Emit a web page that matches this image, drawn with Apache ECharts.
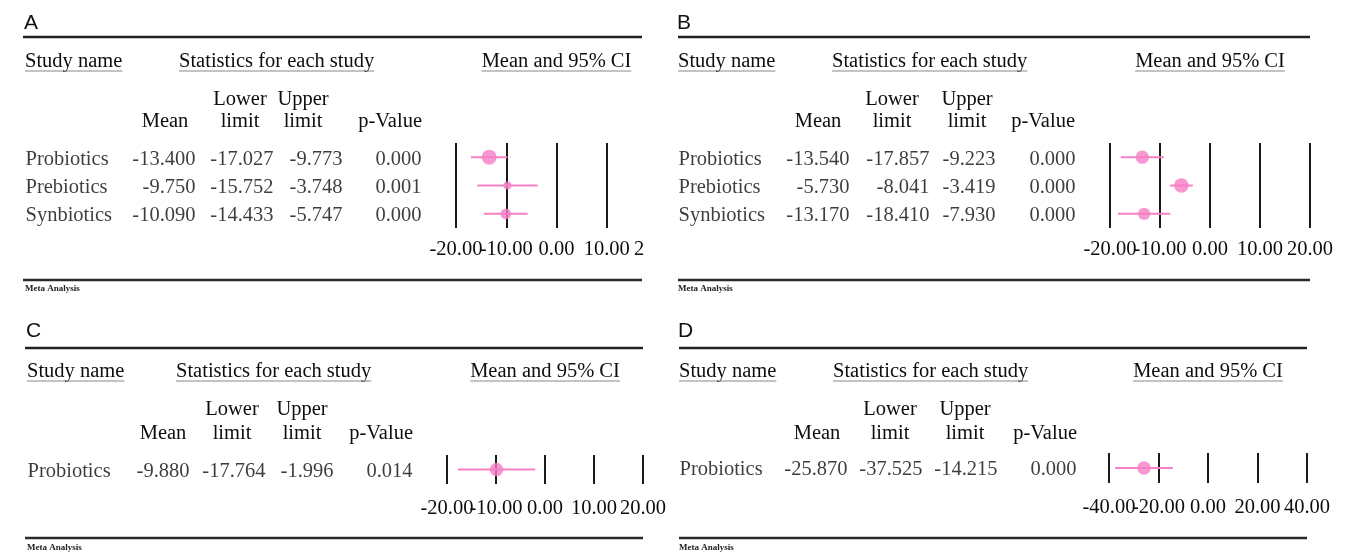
<!DOCTYPE html>
<html><head><meta charset="utf-8">
<script src="https://cdn.jsdelivr.net/npm/echarts@6/dist/echarts.min.js"></script>
<style>html,body{margin:0;padding:0;background:#fff}#c{width:1351px;height:556px}</style>
</head><body><div id="c"></div>
<script>
// ---------------- DATA ----------------
const panelLetters = ['A', 'B', 'C', 'D'];

const studiesA = ['Probiotics', 'Prebiotics', 'Synbiotics'];
const meanA = [-13.400, -9.750, -10.090];
const lowerA = [-17.027, -15.752, -14.433];
const upperA = [-9.773, -3.748, -5.747];
const pValueA = [0.000, 0.001, 0.000];
const weightA = [55, 16, 29];
const ticksA = [-20, -10, 0, 10, 20];

const studiesB = ['Probiotics', 'Prebiotics', 'Synbiotics'];
const meanB = [-13.540, -5.730, -13.170];
const lowerB = [-17.857, -8.041, -18.410];
const upperB = [-9.223, -3.419, -7.930];
const pValueB = [0.000, 0.000, 0.000];
const weightB = [33, 39, 28];
const ticksB = [-20, -10, 0, 10, 20];

const studiesC = ['Probiotics'];
const meanC = [-9.880];
const lowerC = [-17.764];
const upperC = [-1.996];
const pValueC = [0.014];
const weightC = [100];
const ticksC = [-20, -10, 0, 10, 20];

const studiesD = ['Probiotics'];
const meanD = [-25.870];
const lowerD = [-37.525];
const upperD = [-14.215];
const pValueD = [0.000];
const weightD = [100];
const ticksD = [-40, -20, 0, 20, 40];

const headerStudy = 'Study name';
const headerStats = 'Statistics for each study';
const headerCI = 'Mean and 95% CI';
const colHeadTop = ['Lower', 'Upper'];
const colHeadBottom = ['Mean', 'limit', 'limit', 'p-Value'];
const footerText = 'Meta Analysis';

// ---------------- LAYOUT ----------------
const PINK = '#F580C4';
const INK = '#0d0d0d';
const SERIF = '"Liberation Serif","Times New Roman",serif';
const SANS = '"Liberation Sans",Arial,sans-serif';
const FS = 20.5;

const yTopRow = {label: 23, top: 37, head: 62, under: 71, h1: 100, h2: 122, bottom: 280, meta: 289};
const yBotRow = {label: 331, top: 348, head: 372, under: 381, h1: 410, h2: 434, bottom: 538, meta: 548};

const panels = [
  {studies: studiesA, mean: meanA, lower: lowerA, upper: upperA, p: pValueA, w: weightA, ticks: ticksA,
   L: 25, rule: [23, 642], y: yTopRow, forest: {left: 456, width: 201, top: 143, height: 85, margin: 11}, maxSym: 15,
   hdr: {mean: 165, lower: 240, upper: 303, pRight: 422}, val: [196, 274, 343, 422], stats: 179},
  {studies: studiesB, mean: meanB, lower: lowerB, upper: upperB, p: pValueB, w: weightB, ticks: ticksB,
   L: 678, rule: [678, 1310], y: yTopRow, forest: {left: 1110, width: 200, top: 143, height: 85, margin: 11}, maxSym: 14.5,
   hdr: {mean: 818, lower: 892, upper: 967, pRight: 1075}, val: [850, 930, 996, 1076], stats: 832},
  {studies: studiesC, mean: meanC, lower: lowerC, upper: upperC, p: pValueC, w: weightC, ticks: ticksC,
   L: 27, rule: [25, 643], y: yBotRow, forest: {left: 447, width: 196, top: 455, height: 29, margin: 14}, maxSym: 13.5,
   hdr: {mean: 163, lower: 232, upper: 302, pRight: 413}, val: [190, 266, 334, 413], stats: 176},
  {studies: studiesD, mean: meanD, lower: lowerD, upper: upperD, p: pValueD, w: weightD, ticks: ticksD,
   L: 679, rule: [679, 1307], y: yBotRow, forest: {left: 1109, width: 198, top: 453, height: 30, margin: 14}, maxSym: 13.5,
   hdr: {mean: 817, lower: 890, upper: 965, pRight: 1077}, val: [848, 923, 998, 1077], stats: 833}
];

const mctx = document.createElement('canvas').getContext('2d');
function textW(t, font) { mctx.font = font; return mctx.measureText(t).width; }
const FONT = FS + 'px ' + SERIF;

function txt(text, x, y, align, font, fill) {
  return {type: 'text', z: 50, silent: true,
    style: {text: text, x: x, y: y, font: font || FONT, fill: fill || INK,
      align: align || 'left', verticalAlign: 'middle', textAlign: align || 'left', textVerticalAlign: 'middle'}};
}
function hline(x1, x2, y, w, c) {
  return {type: 'line', z: 50, silent: true, shape: {x1: x1, y1: y, x2: x2, y2: y}, style: {stroke: c, lineWidth: w}};
}

const grid = [], xAxis = [], yAxis = [], series = [], graphics = [];

panels.forEach((P, k) => {
  const gF = grid.length;
  grid.push({left: P.forest.left, top: P.forest.top, width: P.forest.width, height: P.forest.height, containLabel: false});
  const tableW = 430;
  grid.push({left: P.L, top: P.forest.top + 2, width: tableW, height: P.forest.height, containLabel: false});
  const tk = P.ticks;
  const step = tk[1] - tk[0];
  // tick labels are split over two coincident axes so that touching labels are all kept
  const labelAxis = (parity, withLines) => ({
    gridIndex: gF, type: 'value', position: 'bottom', offset: 0,
    min: tk[0], max: tk[tk.length - 1], interval: step,
    axisLine: {show: false}, axisTick: {show: false},
    splitLine: {show: withLines, showMinLine: true, showMaxLine: true, lineStyle: {color: '#1a1a1a', width: 2}},
    axisLabel: {show: true, margin: P.forest.margin,
      formatter: v => (tk.indexOf(v) % 2 === parity ? v.toFixed(2) : ''),
      fontFamily: SERIF, fontSize: FS, color: INK, showMinLabel: true, showMaxLabel: true, hideOverlap: false}
  });
  const xF = xAxis.length;
  xAxis.push(labelAxis(0, true));
  xAxis.push(labelAxis(1, false));
  const xT = xAxis.length;
  xAxis.push({gridIndex: gF + 1, type: 'value', min: 0, max: tableW, show: false});
  const yF = yAxis.length;
  yAxis.push({gridIndex: gF, type: 'category', data: P.studies, inverse: true, show: false});
  const yT = yAxis.length;
  yAxis.push({gridIndex: gF + 1, type: 'category', data: P.studies, inverse: true, show: false});

  const maxW = Math.max.apply(null, P.w);
  // CI lines
  series.push({type: 'custom', xAxisIndex: xF, yAxisIndex: yF, silent: true, z: 3,
    encode: {x: [0, 1], y: 2},
    data: P.studies.map((s, i) => [P.lower[i], P.upper[i], s]),
    renderItem: function (params, api) {
      const a = api.coord([api.value(0), api.value(2)]);
      const b = api.coord([api.value(1), api.value(2)]);
      return {type: 'line', shape: {x1: a[0], y1: a[1], x2: b[0], y2: b[1]}, style: {stroke: PINK, lineWidth: 2}};
    }});
  // mean markers
  series.push({type: 'scatter', xAxisIndex: xF, yAxisIndex: yF, silent: true, z: 4,
    data: P.studies.map((s, i) => [P.mean[i], s]),
    symbol: 'circle',
    symbolSize: (v, p) => P.maxSym * Math.sqrt(P.w[p.dataIndex] / maxW),
    itemStyle: {color: PINK}, emphasis: {disabled: true}});
  // table texts
  const lab = (pos) => ({show: true, position: pos, distance: 0, formatter: p => p.value[2],
    fontFamily: SERIF, fontSize: FS, color: INK});
  const cols = [
    {x: 0, pos: 'right', vals: P.studies},
    {x: P.val[0] - P.L, pos: 'left', vals: P.mean.map(v => v.toFixed(3))},
    {x: P.val[1] - P.L, pos: 'left', vals: P.lower.map(v => v.toFixed(3))},
    {x: P.val[2] - P.L, pos: 'left', vals: P.upper.map(v => v.toFixed(3))},
    {x: P.val[3] - P.L, pos: 'left', vals: P.p.map(v => v.toFixed(3))}
  ];
  cols.forEach(c => {
    series.push({type: 'scatter', xAxisIndex: xT, yAxisIndex: yT, silent: true,
      symbolSize: 1, itemStyle: {color: 'rgba(0,0,0,0)'}, emphasis: {disabled: true},
      data: P.studies.map((s, i) => [c.x, s, c.vals[i]]), label: lab(c.pos)});
  });

  // ---- graphics ----
  const Y = P.y;
  graphics.push(txt(panelLetters[k], P.L - 1, Y.label, 'left', '21px ' + SANS, '#111'));
  graphics.push(hline(P.rule[0], P.rule[1], Y.top, 2.5, '#222'));
  graphics.push(hline(P.rule[0], P.rule[1], Y.bottom, 2.5, '#2a2a2a'));
  graphics.push(txt(footerText, P.L, Y.meta, 'left', 'bold 9px ' + SERIF, '#222'));
  const wS = textW(headerStudy, FONT);
  graphics.push(txt(headerStudy, P.L, Y.head, 'left'));
  graphics.push(hline(P.L, P.L + wS, Y.under, 1, '#888'));
  const wSt = textW(headerStats, FONT);
  graphics.push(txt(headerStats, P.stats, Y.head, 'left'));
  graphics.push(hline(P.stats, P.stats + wSt, Y.under, 1, '#888'));
  const cx = P.forest.left + P.forest.width / 2;
  const wC = textW(headerCI, FONT);
  graphics.push(txt(headerCI, cx, Y.head, 'center'));
  graphics.push(hline(cx - wC / 2, cx + wC / 2, Y.under, 1, '#888'));
  graphics.push(txt(colHeadTop[0], P.hdr.lower, Y.h1, 'center'));
  graphics.push(txt(colHeadTop[1], P.hdr.upper, Y.h1, 'center'));
  graphics.push(txt(colHeadBottom[0], P.hdr.mean, Y.h2, 'center'));
  graphics.push(txt(colHeadBottom[1], P.hdr.lower, Y.h2, 'center'));
  graphics.push(txt(colHeadBottom[2], P.hdr.upper, Y.h2, 'center'));
  graphics.push(txt(colHeadBottom[3], P.hdr.pRight, Y.h2, 'right'));
});

// panel A is cropped at its right edge in the original figure
graphics.push({type: 'rect', z: 100, silent: true, shape: {x: 644, y: 130, width: 33, height: 135}, style: {fill: '#fff'}});
graphics.push({type: 'rect', z: 100, silent: true, shape: {x: 676, y: 234, width: 10, height: 30}, style: {fill: '#fff'}});

const chart = echarts.init(document.getElementById('c'), null, {renderer: 'canvas', width: 1351, height: 556});
chart.setOption({
  animation: false,
  backgroundColor: '#fff',
  grid: grid, xAxis: xAxis, yAxis: yAxis, series: series,
  graphic: {elements: graphics}
});
</script>
</body></html>
